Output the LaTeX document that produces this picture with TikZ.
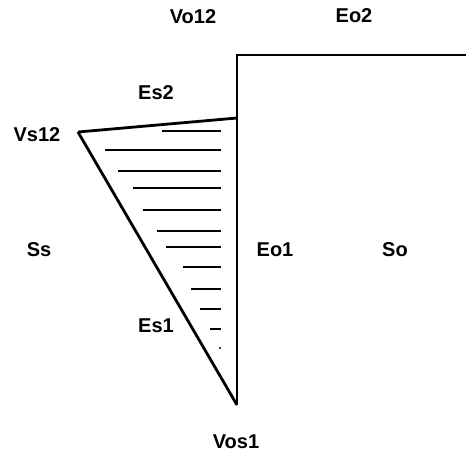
\documentclass[tikz,border=0pt]{standalone}
\usepackage{fontspec}
\setmainfont{Liberation Sans}
\usetikzlibrary{positioning,calc}

\begin{document}
\begin{tikzpicture}[
    x=1pt, y=-1pt,
    edge/.style={line width=2.8pt, line join=miter},
    hatch/.style={line width=1.6pt},
    lbl/.style={font=\fontsize{20}{22}\selectfont\bfseries, inner sep=0pt},
]
\useasboundingbox (0,0) rectangle (466,458);

% Corner points
\coordinate (vs12) at (78,132);
\coordinate (es2end) at (237,118);
\coordinate (vos1pt) at (237,405);
\coordinate (vo12pt) at (237,55);
\coordinate (eo2end) at (466,55);

% Boundaries
\draw[edge] (eo2end) -- (vo12pt) -- (vos1pt);
\draw[edge] (vs12) -- (es2end);
\draw[edge] (vs12) -- (vos1pt);

% Hatching of the wedge
\foreach \yy/\xl in {131/162, 150/105, 171/118, 188/133, 210/143, 231/157,
                     247/166, 267/183, 289/191, 309/200, 329/210} {
    \draw[hatch] (\xl,\yy) -- (221,\yy);
}
\fill (220,348) circle (1.1pt);

% Labels
\node[lbl] (vo12) at (193,17) {Vo12};
\node[lbl] (eo2) at (354,16) {Eo2};
\node[lbl] (es2) at (156,93) {Es2};
\node[lbl] (vs12lbl) at (37,135) {Vs12};
\node[lbl] (ss) at (39,250) {Ss};
\node[lbl] (eo1) at (275,250) {Eo1};
\node[lbl] (so) at (395,250) {So};
\node[lbl] (es1) at (156,326) {Es1};
\node[lbl] (vos1) at (236,442) {Vos1};

\end{tikzpicture}
\end{document}
